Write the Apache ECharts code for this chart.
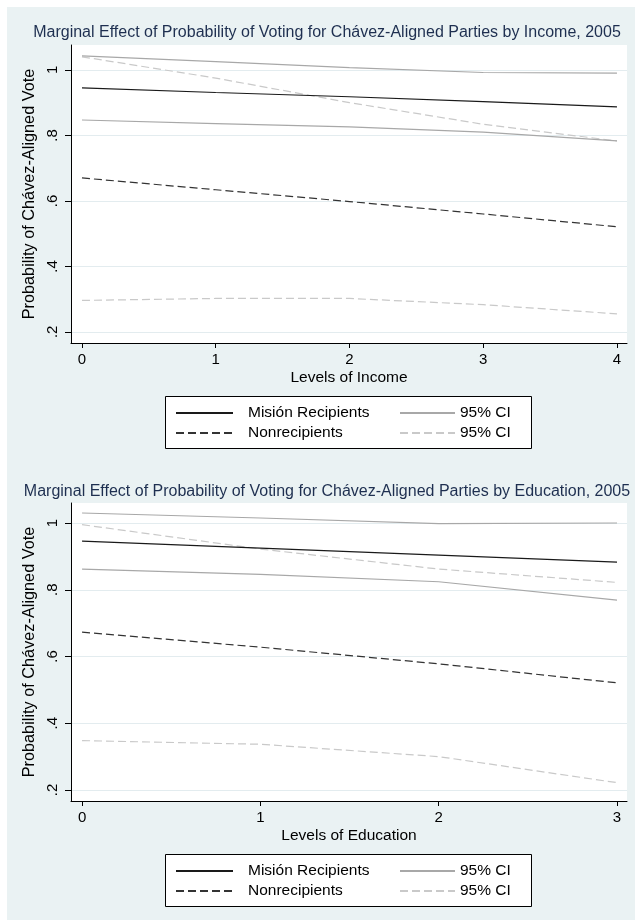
<!DOCTYPE html>
<html>
<head>
<meta charset="utf-8">
<script src="https://cdn.jsdelivr.net/npm/echarts@6/dist/echarts.min.js"></script>
<style>
html,body{margin:0;padding:0;background:#fff;}
#chart{width:635px;height:920px;}
</style>
</head>
<body>
<div id="chart"></div>
<script>
// ---------- data ----------
const seriesNames = ['Misión Recipients', '95% CI', 'Nonrecipients', '95% CI '];
const titles = [
  'Marginal Effect of Probability of Voting for Chávez-Aligned Parties by Income, 2005',
  'Marginal Effect of Probability of Voting for Chávez-Aligned Parties by Education, 2005'
];
const xTitles = ['Levels of Income', 'Levels of Education'];
const yTitle = 'Probability of Chávez-Aligned Vote';

const incomeLevels = [0, 1, 2, 3, 4];
const incomeMision = [0.945, 0.931, 0.918, 0.903, 0.887];
const incomeMisionHi = [1.043, 1.025, 1.007, 0.992, 0.990];
const incomeMisionLo = [0.847, 0.836, 0.826, 0.810, 0.783];
const incomeNon = [0.670, 0.634, 0.598, 0.560, 0.521];
const incomeNonHi = [1.040, 0.975, 0.900, 0.834, 0.783];
const incomeNonLo = [0.296, 0.302, 0.302, 0.283, 0.255];

const eduLevels = [0, 1, 2, 3];
const eduMision = [0.946, 0.925, 0.904, 0.883];
const eduMisionHi = [1.030, 1.015, 0.998, 1.000];
const eduMisionLo = [0.862, 0.846, 0.824, 0.769];
const eduNon = [0.673, 0.628, 0.578, 0.521];
const eduNonHi = [0.995, 0.922, 0.862, 0.822];
const eduNonLo = [0.348, 0.337, 0.300, 0.222];

const yTicks = [0.2, 0.4, 0.6, 0.8, 1];
const yTickLabels = ['.2', '.4', '.6', '.8', '1'];

// ---------- styling ----------
const FONT = '"Liberation Sans", Arial, Helvetica, sans-serif';
const BG = '#eaf2f3';
const GRID_LINE = '#e3ecef';

// style per role: mision, mision CI, non, non CI
const roleStyles = [
  {color: '#1a1a1a', width: 1.2, type: 'solid'},
  {color: '#a8a8a8', width: 1.2, type: 'solid'},
  {color: '#333333', width: 1.2, type: [8, 4]},
  {color: '#c9c9c9', width: 1.2, type: [8, 4]}
];

function zip(xs, ys) { return xs.map((x, i) => [x, ys[i]]); }

function line(idx, xs, ys, role) {
  const s = roleStyles[role];
  return {
    type: 'line',
    name: seriesNames[role],
    xAxisIndex: idx,
    yAxisIndex: idx,
    data: zip(xs, ys),
    symbol: 'none',
    showSymbol: false,
    silent: true,
    lineStyle: {color: s.color, width: s.width, type: s.type},
    itemStyle: {color: s.color},
    z: 6 - role
  };
}

function mkX(idx, levels, min, max) {
  return {
    type: 'value', gridIndex: idx, min: min, max: max,
    axisLine: {show: true, onZero: false, lineStyle: {color: '#000', width: 1}},
    axisTick: {show: true, length: 5, customValues: levels, lineStyle: {color: '#000'}},
    axisLabel: {customValues: levels, margin: 9, fontSize: 15, color: '#000', fontFamily: FONT,
      formatter: v => String(v)},
    splitLine: {show: false},
    name: xTitles[idx], nameLocation: 'middle', nameGap: 27,
    nameTextStyle: {fontSize: 15.5, color: '#000', fontFamily: FONT}
  };
}

function mkY(idx, min, max) {
  return {
    type: 'value', gridIndex: idx, min: min, max: max,
    axisLine: {show: true, onZero: false, lineStyle: {color: '#000', width: 1}},
    axisTick: {show: true, length: 6, customValues: yTicks, lineStyle: {color: '#000'}},
    axisLabel: {customValues: yTicks, rotate: 90, margin: 11, fontSize: 15, color: '#000', fontFamily: FONT,
      formatter: v => yTickLabels[yTicks.findIndex(t => Math.abs(t - v) < 1e-9)] || ''},
    splitLine: {show: true, lineStyle: {color: GRID_LINE, width: 1}},
    name: yTitle, nameLocation: 'middle', nameGap: 28, nameRotate: 90,
    nameTextStyle: {fontSize: 16.3, color: '#000', fontFamily: FONT}
  };
}

// two legend columns per panel, inside a drawn box
function mkLegendCol(left, top, names, itemWidth, textPad) {
  return {
    left: left, top: top, orient: 'vertical',
    padding: 0, itemGap: 4, itemWidth: itemWidth, itemHeight: 14,
    textStyle: {fontSize: 15.5, color: '#000', fontFamily: FONT, padding: [0, 0, 0, textPad]},
    itemStyle: {opacity: 0, borderWidth: 0},
    formatter: n => n.trim(),
    selectedMode: false,
    data: names
  };
}
function legendBox(top) {
  return {type: 'rect', silent: true, z: 3,
    shape: {x: 165.5, y: top + 0.5, width: 366, height: 52},
    style: {fill: '#fff', stroke: '#000', lineWidth: 1}};
}

const series = [
  line(0, incomeLevels, incomeMision, 0),
  line(0, incomeLevels, incomeMisionHi, 1),
  line(0, incomeLevels, incomeMisionLo, 1),
  line(0, incomeLevels, incomeNon, 2),
  line(0, incomeLevels, incomeNonHi, 3),
  line(0, incomeLevels, incomeNonLo, 3),
  line(1, eduLevels, eduMision, 0),
  line(1, eduLevels, eduMisionHi, 1),
  line(1, eduLevels, eduMisionLo, 1),
  line(1, eduLevels, eduNon, 2),
  line(1, eduLevels, eduNonHi, 3),
  line(1, eduLevels, eduNonLo, 3)
];

const chart = echarts.init(document.getElementById('chart'), null, {renderer: 'canvas'});
chart.setOption({
  animation: false,
  backgroundColor: BG,
  graphic: [
    {type: 'rect', shape: {x: 0, y: 0, width: 635, height: 7}, style: {fill: '#fff'}, silent: true},
    {type: 'rect', shape: {x: 0, y: 0, width: 7, height: 920}, style: {fill: '#fff'}, silent: true},
    {type: 'text', x: 327, y: 33, silent: true,
      style: {text: titles[0], align: 'center', verticalAlign: 'middle', textAlign: 'center', textVerticalAlign: 'middle',
        fontSize: 16, fontFamily: FONT, fill: '#1e2f50'}},
    {type: 'text', x: 327, y: 492, silent: true,
      style: {text: titles[1], align: 'center', verticalAlign: 'middle', textAlign: 'center', textVerticalAlign: 'middle',
        fontSize: 16, fontFamily: FONT, fill: '#1e2f50'}},
    legendBox(396),
    legendBox(854)
  ],
  grid: [
    {left: 71, top: 45, width: 556, height: 298, show: true, backgroundColor: '#fff', borderWidth: 0},
    {left: 71, top: 503, width: 556, height: 298, show: true, backgroundColor: '#fff', borderWidth: 0}
  ],
  xAxis: [mkX(0, incomeLevels, -0.082, 4.075), mkX(1, eduLevels, -0.062, 3.056)],
  yAxis: [mkY(0, 0.166, 1.076), mkY(1, 0.167, 1.06)],
  legend: [
    mkLegendCol(175, 405, [seriesNames[0], seriesNames[2]], 57, 10),
    mkLegendCol(399, 405, [seriesNames[1], seriesNames[3]], 55, 0),
    mkLegendCol(175, 863, [seriesNames[0], seriesNames[2]], 57, 10),
    mkLegendCol(399, 863, [seriesNames[1], seriesNames[3]], 55, 0)
  ],
  series: series
});
</script>
</body>
</html>
